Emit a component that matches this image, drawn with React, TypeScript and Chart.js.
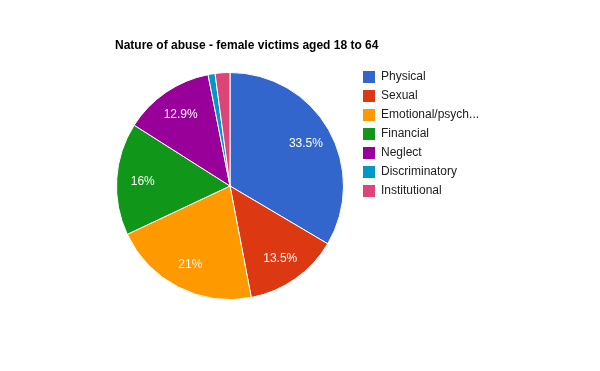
import React, { useEffect, useRef } from "react";
import { Chart, registerables } from "chart.js";

Chart.register(...registerables);

const categories = ["Physical", "Sexual", "Emotional/psych...", "Financial", "Neglect", "Discriminatory", "Institutional"];
const values = [33.5, 13.5, 21, 16, 12.9, 1.0, 2.1];
const valueLabels = ["33.5%", "13.5%", "21%", "16%", "12.9%", "", ""];
const colors = ["#3366cc", "#dc3912", "#ff9900", "#109618", "#990099", "#0099c6", "#dd4477"];
const titleText = "Nature of abuse - female victims aged 18 to 64";

const FONT = "Arial, 'Liberation Sans', sans-serif";

const overlayPlugin = {
  id: "overlay",
  afterDatasetsDraw(chart: any) {
    const ctx = chart.ctx;
    const meta = chart.getDatasetMeta(0);
    ctx.save();
    // slice labels
    ctx.font = `12px ${FONT}`;
    ctx.fillStyle = "#ffffff";
    ctx.textAlign = "center";
    ctx.textBaseline = "middle";
    meta.data.forEach((arc: any, i: number) => {
      const lbl = valueLabels[i];
      if (!lbl) return;
      const { x, y, startAngle, endAngle, outerRadius } = arc.getProps(["x", "y", "startAngle", "endAngle", "outerRadius"], true);
      const mid = (startAngle + endAngle) / 2;
      const r = outerRadius * 0.77;
      ctx.fillText(lbl, x + Math.cos(mid) * r, y + Math.sin(mid) * r + 1);
    });
    // title
    ctx.font = `bold 12px ${FONT}`;
    ctx.fillStyle = "#000000";
    ctx.textAlign = "left";
    ctx.fillText(titleText, 115, 46);
    // legend
    ctx.font = `12px ${FONT}`;
    categories.forEach((c, i) => {
      const cy = 77 + i * 19;
      ctx.fillStyle = colors[i];
      ctx.fillRect(363, cy - 6, 12, 12);
      ctx.fillStyle = "#222222";
      ctx.fillText(c, 381, cy);
    });
    ctx.restore();
  },
};

export default function App() {
  const ref = useRef<HTMLCanvasElement | null>(null);
  useEffect(() => {
    document.body.style.margin = "0";
    const chart = new Chart(ref.current!, {
      type: "pie",
      data: {
        labels: categories,
        datasets: [
          {
            data: values,
            backgroundColor: colors,
            borderColor: "#ffffff",
            borderWidth: 1,
          },
        ],
      },
      options: {
        animation: false,
        responsive: false,
        layout: { padding: { left: 116, right: 256, top: 72, bottom: 71 } },
        plugins: {
          legend: { display: false },
          title: { display: false },
          tooltip: { enabled: false },
        },
      },
      plugins: [overlayPlugin],
    });
    return () => chart.destroy();
  }, []);
  return (
    <div style={{ width: 600, height: 371, background: "#fff" }}>
      <canvas ref={ref} width={600} height={371} />
    </div>
  );
}
